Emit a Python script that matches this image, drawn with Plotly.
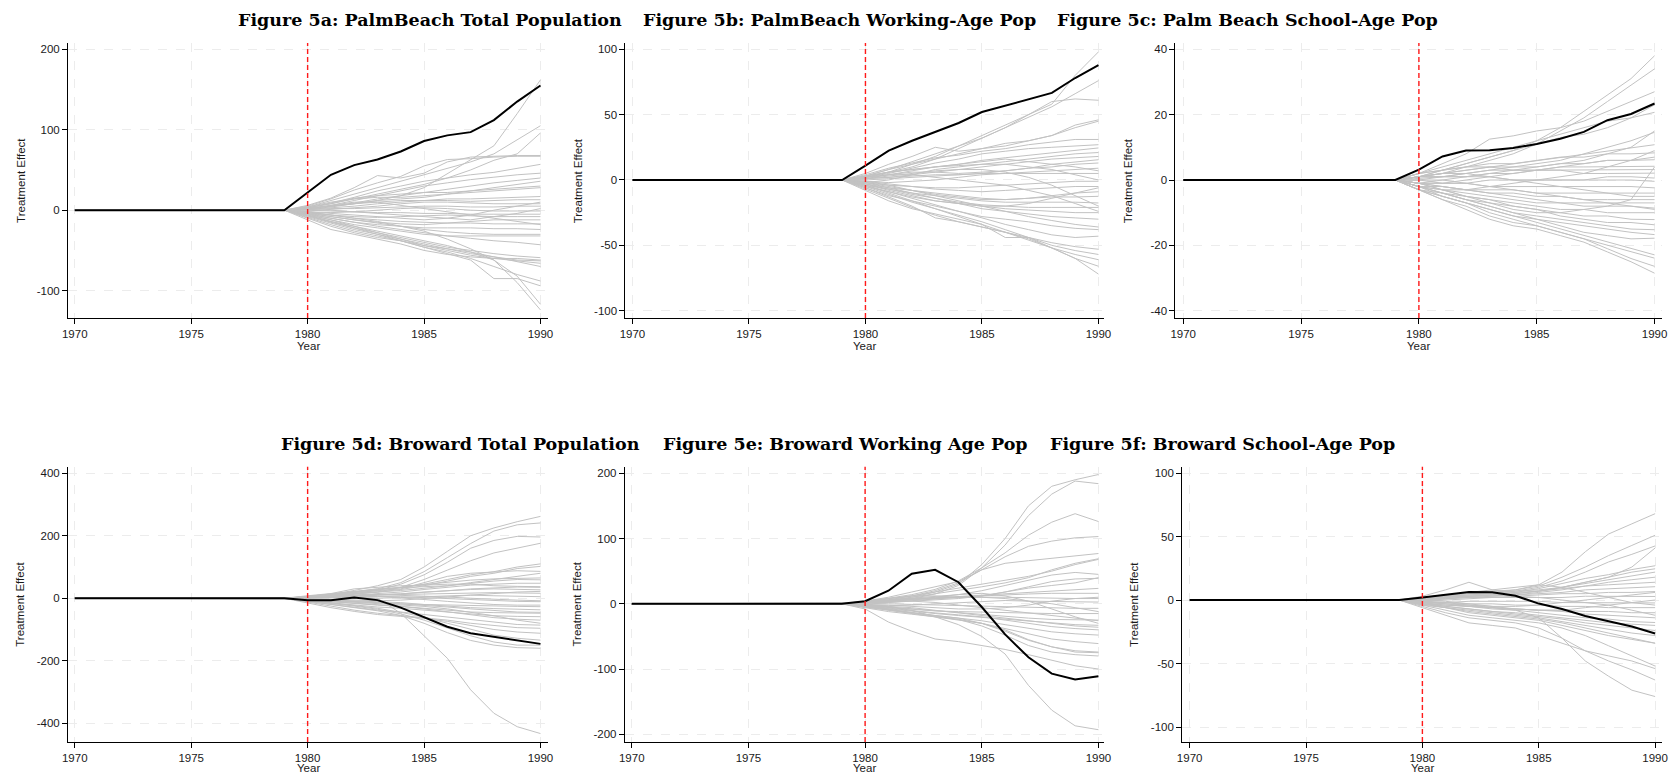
import plotly.graph_objects as go

# ---------------- DATA ----------------
YEARS = [1970, 1971, 1972, 1973, 1974, 1975, 1976, 1977, 1978, 1979,
         1980, 1981, 1982, 1983, 1984, 1985, 1986, 1987, 1988, 1989, 1990]
TREATMENT_YEAR = 1980
# every series is exactly 0 from 1970 to 1979
PRE_PERIOD_VALUES = [0, 0, 0, 0, 0, 0, 0, 0, 0, 0]

TITLES = ["Figure 5a: PalmBeach Total Population",
          "Figure 5b: PalmBeach Working-Age Pop",
          "Figure 5c: Palm Beach School-Age Pop",
          "Figure 5d: Broward Total Population",
          "Figure 5e: Broward Working Age Pop",
          "Figure 5f: Broward School-Age Pop"]

Y_TICKS_A = [-100, 0, 100, 200]
Y_TICKS_B = [-100, -50, 0, 50, 100]
Y_TICKS_C = [-40, -20, 0, 20, 40]
Y_TICKS_D = [-400, -200, 0, 200, 400]
Y_TICKS_E = [-200, -100, 0, 100, 200]
Y_TICKS_F = [-100, -50, 0, 50, 100]
X_TICKS = [1970, 1975, 1980, 1985, 1990]

# treated unit, values 1980..1990
TREATED_A = [22, 44, 56, 63, 73, 86, 93, 97, 112, 135, 155]
TREATED_B = [11, 22.4, 30, 36.7, 43.6, 52, 57, 61.5, 66.6, 78, 87.8]
TREATED_C = [3.2, 7.2, 9.0, 9.1, 9.8, 11, 12.6, 14.7, 18.3, 20.2, 23.4]
TREATED_D = [-6, -6, 2, -6, -30, -61, -91, -112, -123, -136, -146]
TREATED_E = [4, 20, 46, 52, 33, -5, -47, -82, -107, -116, -111]
TREATED_F = [2, 4.4, 6.4, 6.2, 3.3, -2.8, -7, -12.6, -16.7, -20.8, -26.4]

# placebo units, values 1980..1990
PLACEBO_A = [
    [2, 5, 8, 12, 18, 28, 45, 62, 80, 120, 162],
    [4, 12, 20, 28, 36, 44, 52, 60, 70, 88, 105],
    [3, 8, 14, 20, 26, 32, 40, 50, 62, 70, 96],
    [6, 15, 28, 43, 40, 46, 60, 66, 67, 68, 68],
    [5, 14, 25, 34, 42, 55, 63, 64, 66, 67, 67],
    [3, 9, 16, 24, 30, 36, 40, 44, 47, 52, 57],
    [2, 6, 12, 18, 24, 30, 34, 38, 41, 44, 46],
    [2, 5, 9, 14, 18, 22, 26, 30, 34, 37, 40],
    [1, 4, 8, 12, 14, 16, 20, 24, 28, 32, 36],
    [3, 8, 15, 18, 20, 22, 22, 24, 26, 28, 30],
    [1, 3, 5, 8, 10, 12, 14, 14, 15, 16, 17],
    [2, 5, 8, 10, 12, 12, 12, 11, 12, 13, 13],
    [-1, 1, 3, 5, 8, 10, 10, 9, 8, 8, 8],
    [1, 2, 2, 3, 4, 5, 5, 4, 4, 5, 5],
    [-2, -3, -2, 0, 2, 3, 2, 0, -1, -1, -1],
    [0, -1, -2, -3, -3, -4, -4, -5, -5, -5, -5],
    [-3, -6, -8, -9, -8, -7, -6, -7, -8, -8, -8],
    [-4, -8, -12, -15, -17, -18, -16, -14, -12, -12, -12],
    [-2, -6, -10, -12, -14, -15, -16, -16, -17, -17, -17],
    [-5, -10, -15, -18, -20, -22, -22, -22, -23, -23, -24],
    [-3, -8, -12, -16, -20, -24, -27, -29, -30, -30, -30],
    [-6, -12, -18, -22, -26, -30, -32, -32, -32, -32, -32],
    [-4, -10, -15, -20, -24, -28, -32, -35, -38, -40, -43],
    [-7, -15, -22, -28, -34, -40, -46, -50, -54, -57, -59],
    [-8, -16, -24, -30, -36, -42, -48, -54, -58, -62, -63],
    [-5, -12, -20, -28, -36, -44, -50, -56, -60, -63, -66],
    [-10, -20, -28, -34, -38, -44, -48, -52, -58, -64, -70],
    [-6, -14, -22, -30, -38, -46, -52, -60, -70, -80, -88],
    [-9, -18, -26, -32, -38, -46, -54, -62, -85, -85, -94],
    [-7, -14, -20, -26, -32, -38, -44, -52, -62, -82, -117],
    [-3, -6, -10, -14, -20, -26, -36, -48, -62, -90, -124],
    [-12, -24, -30, -36, -42, -50, -55, -58, -60, -60, -62],
    [4, 10, 14, 16, 16, 18, 20, 22, 24, 26, 28],
    [-2, -4, -6, -8, -10, -12, -10, -6, 0, 5, 10],
    [1, 0, -2, -4, -6, -8, -10, -12, -8, -4, 2],
    [2, 6, 10, 10, 6, 2, -2, -6, -10, -14, -18],
]

PLACEBO_B = [
    [2, 6, 12, 18, 26, 34, 42, 50, 58, 80, 98],
    [3, 8, 14, 20, 26, 32, 40, 48, 56, 66, 76],
    [2, 6, 10, 16, 24, 32, 40, 50, 60, 62, 61],
    [5, 12, 18, 25, 22, 24, 26, 30, 34, 42, 46],
    [3, 8, 12, 16, 20, 24, 28, 30, 34, 40, 45],
    [4, 9, 13, 17, 19, 22, 24, 27, 29, 31, 31],
    [2, 5, 9, 13, 16, 20, 22, 24, 25, 26, 27],
    [1, 4, 7, 10, 12, 15, 17, 19, 21, 23, 24.5],
    [3, 6, 8, 10, 11, 12, 14, 16, 18, 20, 21],
    [1, 2, 4, 6, 8, 10, 12, 14, 16, 17, 18],
    [0, 1, 2, 3, 4, 5, 7, 9, 12, 14, 15.5],
    [2, 4, 6, 6, 5, 6, 7, 9, 10, 12, 13],
    [-1, -2, -1, 0, 2, 4, 5, 6, 7, 8, 9],
    [1, 2, 3, 4, 4, 5, 5, 5, 5, 5, 5],
    [-2, -4, -5, -6, -6, -5, -4, -3, -2, -1, -1],
    [-1, -3, -5, -7, -8, -9, -8, -7, -6, -5, -5],
    [-3, -6, -8, -10, -12, -14, -15, -14, -12, -10, -9],
    [-2, -5, -8, -11, -13, -15, -15, -14, -13, -13, -12.5],
    [-4, -7, -10, -12, -14, -16, -17, -17, -17, -17, -17.6],
    [-3, -7, -11, -14, -17, -19, -20, -21, -21, -21, -21],
    [-5, -9, -13, -16, -18, -20, -22, -23, -24, -25, -25],
    [-2, -6, -10, -14, -18, -22, -24, -26, -28, -29, -30],
    [-6, -12, -16, -20, -24, -28, -30, -32, -35, -37, -38],
    [-4, -9, -14, -19, -24, -29, -34, -38, -42, -44, -43],
    [-5, -11, -17, -22, -27, -32, -38, -44, -48, -51, -53],
    [-7, -14, -21, -27, -32, -36, -40, -44, -50, -54, -57],
    [-6, -13, -20, -29, -32, -36, -40, -45, -52, -57, -61],
    [-4, -10, -16, -22, -28, -34, -40, -46, -52, -60, -66],
    [-8, -16, -22, -26, -30, -34, -44, -44, -52, -60, -72],
    [2, 4, 4, 2, 0, -2, -4, -8, -12, -18, -24],
    [-2, 0, 4, 8, 10, 12, 12, 10, 8, 4, 0],
    [3, 6, 8, 10, 12, 14, 16, 14, 12, 10, 7],
    [-3, -8, -12, -16, -18, -20, -20, -18, -14, -10, -6],
    [1, 3, 5, 7, 8, 8, 6, 2, -4, -12, -20],
    [-1, -4, -8, -12, -16, -20, -24, -28, -31, -34, -36],
]

PLACEBO_C = [
    [1, 3, 5, 7, 9, 12, 16, 21, 26, 31, 38],
    [1, 2, 4, 6, 8, 11, 15, 19, 24, 29, 34],
    [2, 5, 8, 12.5, 13.5, 15, 16, 18, 21, 24, 27],
    [2, 4, 6, 8, 10, 12, 14, 16, 18, 19, 20.7],
    [1, 3, 5, 7, 9, 11, 13, 14, 16, 19, 23],
    [0.5, 1, 2, 3, 4, 5, 6, 8, 10, 12, 14.6],
    [1, 2, 3, 4, 5, 6, 7, 8, 9, 10, 10.8],
    [2, 3, 4, 5, 5, 6, 7, 7, 8, 8, 8.3],
    [1, 1, 2, 3, 3, 4, 5, 5, 6, 6, 6.2],
    [0, 1, 1, 2, 3, 3, 4, 4, 4, 4, 4.2],
    [2, 3, 4, 4, 3, 3, 3, 3, 3, 3, 3.2],
    [-1, 0, 1, 2, 2, 3, 3, 2, 2, 2, 2.1],
    [1, 1, 1, 1, 0, 0, 0, 0, 1, 1, 0.6],
    [-1, -1, -1, 0, 0, 0, 0, 0, 0, 0, -0.4],
    [0, -1, -1, -2, -2, -2, -2, -2, -2, -2, -2.4],
    [-2, -2, -3, -3, -3, -4, -4, -4, -4, -4, -4],
    [-1, -2, -3, -4, -4, -5, -5, -6, -6, -6, -6],
    [-2, -3, -4, -5, -6, -7, -7, -7, -7, -7, -7],
    [-1, -2, -3, -4, -5, -6, -7, -8, -8, -8, -8.6],
    [-2, -4, -5, -6, -7, -8, -9, -9, -10, -10, -10],
    [-3, -4, -6, -7, -8, -9, -10, -11, -11, -12, -12.1],
    [-1, -3, -5, -6, -8, -9, -11, -12, -13, -13, -13.7],
    [-2, -4, -6, -8, -10, -11, -12, -13, -14, -15, -15.2],
    [-3, -5, -7, -9, -11, -12, -13, -14, -15, -16, -16.7],
    [-2, -4, -6, -8, -10, -12, -14, -16, -17, -18, -17.8],
    [-3, -5, -7, -9, -11, -13, -15, -17, -19, -21, -22.9],
    [-2, -5, -7, -10, -12, -14, -16, -18, -20, -22, -23.9],
    [-3, -6, -8, -11, -13, -14, -16, -18, -21, -24, -26.4],
    [-3, -6, -9, -12, -14, -15, -17, -19, -22, -25, -28.5],
    [1, 2, 3, 4, 4, 4, 5, 6, 8, 10, 15],
    [-1, -1, 0, 1, 2, 3, 4, 5, 6, 6, 7],
    [-2, -3, -3, -2, -1, 0, 1, 2, 4, 6, 9],
    [0, 0, -1, -2, -3, -4, -5, -6, -7, -8, -9],
    [1, 2, 2, 1, 0, -1, -2, -3, -4, -5, -5],
    [-1, -3, -5, -7, -9, -10, -10, -9, -8, -6, 4],
]

PLACEBO_D = [
    [5, 12, 25, 40, 60, 100, 150, 200, 225, 245, 262],
    [4, 10, 20, 30, 50, 85, 130, 175, 215, 235, 241],
    [3, 8, 15, 25, 45, 75, 115, 160, 185, 198, 196],
    [2, 6, 12, 20, 35, 60, 90, 120, 145, 160, 176],
    [6, 14, 22, 28, 35, 45, 60, 75, 85, 100, 110],
    [3, 8, 14, 20, 28, 40, 55, 70, 80, 95, 102],
    [5, 10, 18, 24, 30, 50, 70, 80, 85, 88, 86],
    [4, 9, 15, 20, 25, 32, 40, 48, 55, 60, 59],
    [2, 5, 10, 15, 20, 28, 35, 42, 45, 48, 48],
    [8, 15, 30, 35, 40, 42, 45, 45, 40, 38, 37],
    [1, 3, 6, 10, 14, 20, 25, 28, 30, 28, 27],
    [3, 6, 8, 10, 12, 14, 16, 18, 18, 17, 16],
    [-2, -3, -2, 0, 2, 5, 8, 10, 8, 6, 5],
    [1, 2, 4, 6, 5, 2, -2, -6, -8, -10, -11],
    [-4, -8, -12, -15, -18, -20, -22, -24, -25, -26, -27],
    [-3, -6, -8, -10, -14, -20, -26, -30, -33, -35, -37],
    [-6, -12, -18, -22, -26, -32, -38, -44, -46, -48, -48],
    [-8, -15, -22, -28, -32, -38, -45, -52, -56, -58, -59],
    [-5, -10, -15, -20, -26, -34, -44, -54, -62, -67, -70],
    [-10, -20, -30, -38, -44, -52, -60, -70, -78, -84, -86],
    [-12, -25, -38, -48, -55, -62, -70, -80, -88, -94, -96],
    [-15, -30, -42, -52, -58, -64, -74, -88, -100, -108, -112],
    [-6, -14, -22, -32, -45, -60, -80, -100, -118, -128, -134],
    [-8, -16, -25, -35, -50, -70, -95, -120, -140, -150, -150],
    [-10, -20, -30, -40, -55, -80, -110, -135, -150, -158, -160],
    [0, 2, 4, 0, -48, -120, -192, -293, -368, -411, -433],
    [6, 14, 24, 30, 34, 36, 40, 50, 60, 70, 80],
    [2, 6, 10, 12, 14, 18, 24, 30, 34, 36, 35],
    [-2, -4, -6, -8, -6, -2, 4, 10, 16, 20, 22],
    [4, 8, 10, 12, 10, 8, 4, 0, -4, -6, -8],
    [-3, -6, -10, -14, -18, -22, -28, -34, -40, -44, -45],
    [3, 6, 8, 6, 2, -4, -10, -16, -20, -22, -22],
    [5, 12, 18, 26, 34, 44, 52, 58, 62, 64, 65],
    [-4, -8, -12, -16, -20, -26, -34, -44, -56, -70, -80],
]

PLACEBO_E = [
    [2, 5, 10, 18, 30, 60, 100, 150, 180, 190, 198],
    [1, 4, 8, 15, 28, 55, 90, 135, 168, 188, 184],
    [3, 8, 14, 22, 35, 55, 78, 105, 125, 138, 126],
    [2, 6, 12, 20, 32, 52, 72, 88, 96, 101, 103],
    [4, 10, 18, 26, 34, 52, 62, 66, 70, 74, 77],
    [3, 7, 12, 18, 24, 30, 36, 42, 50, 60, 68],
    [2, 5, 10, 15, 20, 26, 32, 40, 52, 62, 69],
    [1, 3, 6, 10, 14, 20, 28, 36, 44, 48, 45],
    [4, 8, 12, 12, 10, 12, 18, 26, 34, 38, 39],
    [2, 5, 7, 9, 11, 13, 15, 18, 20, 22, 23.6],
    [-1, 2, 5, 8, 10, 12, 14, 15, 16, 16, 16],
    [3, 6, 8, 9, 10, 10, 10, 9, 9, 8, 8],
    [-2, -3, -2, 0, 2, 4, 5, 4, 3, 3, 2.6],
    [1, 0, -1, -2, -3, -4, -5, -6, -6, -7, -7],
    [-3, -6, -9, -11, -12, -13, -14, -15, -15, -15, -15],
    [-2, -5, -8, -11, -14, -17, -20, -22, -24, -25, -25],
    [-4, -8, -12, -15, -18, -21, -24, -27, -30, -32, -33],
    [-3, -7, -11, -14, -17, -20, -25, -30, -35, -38, -40],
    [-5, -10, -14, -18, -22, -26, -32, -38, -43, -46, -48],
    [-6, -12, -16, -20, -24, -30, -38, -46, -54, -58, -61],
    [-4, -9, -14, -18, -22, -30, -42, -56, -66, -72, -74],
    [-3, -8, -13, -18, -24, -34, -48, -64, -74, -78, -80],
    [-8, -28, -42, -54, -58, -64, -70, -78, -86, -95, -100],
    [-2, -5, -10, -20, -32, -50, -77, -125, -163, -187, -193],
    [2, 4, 6, 8, 10, 10, 8, 4, 0, -6, -12],
    [-1, -2, -4, -6, -8, -8, -6, -2, 4, 8, 10],
    [3, 6, 9, 12, 14, 16, 12, 4, -8, -20, -30],
    [-2, -4, -6, -10, -14, -18, -22, -26, -30, -34, -36],
    [1, 2, 4, 6, 8, 12, 18, 24, 28, 32, 40],
    [-5, -10, -15, -20, -25, -30, -40, -55, -66, -74, -75],
    [2, 4, 4, 2, -2, -6, -10, -14, -18, -22, -26],
]

PLACEBO_F = [
    [2, 4, 6, 7, 8, 12, 22, 38, 52, 60, 68],
    [1, 3, 5, 6, 8, 11, 18, 26, 35, 43, 51],
    [0, 2, 4, 5, 7, 10, 15, 22, 30, 36, 42.6],
    [-1, 1, 3, 4, 5, 7, 10, 14, 18, 26, 41],
    [3, 8, 14, 8, 6, 9, 13, 17, 20, 24, 27],
    [1, 2, 3, 4, 5, 7, 10, 14, 18, 22, 24.6],
    [2, 4, 5, 6, 7, 8, 10, 13, 16, 19, 22],
    [0, 1, 2, 3, 4, 6, 8, 11, 14, 16, 18],
    [1, 3, 4, 5, 6, 7, 9, 11, 12, 13, 14],
    [2, 3, 3, 3, 4, 5, 6, 8, 9, 10, 10.5],
    [-1, 0, 1, 2, 3, 4, 5, 5, 6, 6, 6.7],
    [1, 1, 2, 2, 2, 2, 2, 3, 3, 3, 2.8],
    [-2, -2, -1, -1, -1, -1, -2, -2, -2, -2, -2.3],
    [-1, -2, -3, -3, -4, -4, -5, -5, -6, -6, -6],
    [-3, -4, -5, -6, -7, -8, -8, -9, -9, -10, -10],
    [-2, -4, -5, -6, -7, -8, -9, -11, -12, -13, -14],
    [-1, -3, -5, -7, -8, -10, -12, -14, -15, -17, -17.7],
    [-3, -5, -7, -9, -10, -12, -14, -16, -18, -19, -20],
    [-2, -5, -7, -9, -11, -13, -15, -18, -20, -22, -24],
    [-4, -6, -8, -10, -12, -14, -17, -20, -23, -26, -28],
    [-3, -6, -9, -11, -13, -15, -18, -22, -26, -30, -34],
    [-4, -8, -12, -14, -16, -18, -22, -28, -36, -44, -52],
    [-6, -12, -18, -20, -22, -28, -34, -40, -44, -48, -54],
    [-5, -10, -14, -16, -18, -22, -30, -40, -48, -55, -63],
    [-1, -2, -4, -6, -8, -14, -30, -48, -60, -71, -76],
    [1, 2, 3, 4, 3, 2, 0, -2, -4, -8, -12],
    [-2, -3, -4, -5, -5, -4, -2, 0, 2, 4, 6],
    [2, 4, 6, 8, 10, 12, 10, 6, 2, -2, -4],
    [0, -1, -3, -5, -7, -8, -8, -6, -4, -2, 0],
    [-3, -6, -10, -12, -14, -16, -20, -24, -28, -31, -34],
]

# ---------------- LAYOUT GEOMETRY (pixels) ----------------
W, H = 1675, 774
PANELS = [
    # (left, right, top, bottom, xrange, yrange, yticks, treated, placebos, title_center_x, title_y, xtitle_offset)
    (62.5, 546.4, 43, 318, [1969.71, 1990.33], [-134, 207.8], Y_TICKS_A, TREATED_A, PLACEBO_A, 427, 20, 28),
    (624.3, 1106.4, 43, 318, [1969.70, 1990.23], [-105.6, 104.8], Y_TICKS_B, TREATED_B, PLACEBO_B, 840.5, 20, 28),
    (1178.6, 1669.3, 43, 318, [1969.67, 1990.33], [-42.2, 41.9], Y_TICKS_C, TREATED_C, PLACEBO_C, 1251, 20, 28),
    (62.5, 546.4, 466.7, 742, [1969.71, 1990.33], [-460, 421], Y_TICKS_D, TREATED_D, PLACEBO_D, 458, 444, 26),
    (623.6, 1106.4, 466.7, 742, [1969.70, 1990.23], [-211.8, 210], Y_TICKS_E, TREATED_E, PLACEBO_E, 846, 444, 26),
    (1185.4, 1669.3, 466.7, 742, [1969.68, 1990.31], [-111.8, 105], Y_TICKS_F, TREATED_F, PLACEBO_F, 1226, 444, 26),
]

fig = go.Figure()
layout = dict(
    width=W, height=H,
    margin=dict(l=0, r=0, t=0, b=0),
    paper_bgcolor="white", plot_bgcolor="white",
    showlegend=False,
    font=dict(family="Liberation Sans, Arial, sans-serif", size=11.5, color="#1a1a1a"),
)
annotations = []
shapes = []

for i, (l, r, t, b, xr, yr, yt, treated, placebos, tcx, ty, xto) in enumerate(PANELS):
    n = i + 1
    xa = "x" if n == 1 else f"x{n}"
    ya = "y" if n == 1 else f"y{n}"
    xkey = "xaxis" if n == 1 else f"xaxis{n}"
    ykey = "yaxis" if n == 1 else f"yaxis{n}"

    for p in placebos:
        fig.add_trace(go.Scatter(
            x=YEARS, y=PRE_PERIOD_VALUES + p, mode="lines",
            line=dict(color="#c2c2c2", width=1),
            xaxis=xa, yaxis=ya, hoverinfo="skip"))
    fig.add_trace(go.Scatter(
        x=YEARS, y=PRE_PERIOD_VALUES + treated, mode="lines",
        line=dict(color="black", width=2),
        xaxis=xa, yaxis=ya, hoverinfo="skip"))

    layout[xkey] = dict(
        domain=[l / W, r / W], range=xr, anchor=ya,
        tickvals=X_TICKS, ticktext=[str(v) for v in X_TICKS],
        showline=True, linecolor="black", linewidth=1,
        ticks="outside", ticklen=5, tickcolor="black", tickwidth=1,
        showgrid=True, gridcolor="#ececec", gridwidth=1, griddash="dash",
        zeroline=False, tickfont=dict(size=11.5),
    )
    layout[ykey] = dict(
        domain=[1 - b / H, 1 - t / H], range=yr, anchor=xa,
        tickvals=yt, ticktext=[str(v) for v in yt],
        showline=True, linecolor="black", linewidth=1,
        ticks="outside", ticklen=5, tickcolor="black", tickwidth=1,
        showgrid=True, gridcolor="#ececec", gridwidth=1, griddash="dash",
        zeroline=False, tickfont=dict(size=11.5),
    )

    shapes.append(dict(
        type="line", xref=xa, yref=f"{ya} domain",
        x0=TREATMENT_YEAR, x1=TREATMENT_YEAR, y0=0, y1=1,
        line=dict(color="#ff1a1a", width=1.4, dash="5px,3px"), layer="above"))

    # subplot title
    annotations.append(dict(
        text=f"<b>{TITLES[i]}</b>", xref="paper", yref="paper",
        x=tcx / W, y=1 - ty / H, xanchor="center", yanchor="middle",
        showarrow=False,
        font=dict(family="DejaVu Serif, serif", size=17.5, color="black")))
    # y title
    annotations.append(dict(
        text="Treatment Effect", xref="paper", yref="paper",
        x=(l - 48) / W, y=1 - ((t + b) / 2) / H, xanchor="center", yanchor="middle",
        textangle=-90, showarrow=False, font=dict(size=11.5, color="#1a1a1a")))
    # x title
    annotations.append(dict(
        text="Year", xref="paper", yref="paper",
        x=((l + r) / 2) / W, y=1 - (b + xto) / H, xanchor="center", yanchor="middle",
        showarrow=False, font=dict(size=11.5, color="#1a1a1a")))

layout["annotations"] = annotations
layout["shapes"] = shapes
fig.update_layout(**layout)

fig.write_html("out.html", config={"displayModeBar": False},
               post_script="document.body.style.margin='0';")
